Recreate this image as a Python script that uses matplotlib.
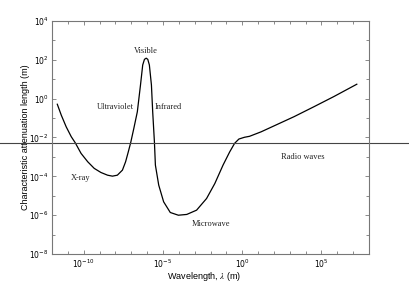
import numpy as np
import matplotlib
matplotlib.use('Agg')
import matplotlib.pyplot as plt
import matplotlib.transforms as mtransforms
from matplotlib.ticker import FixedLocator, NullFormatter

# curve, in log10 units
log_wavelength = [-11.67, -11.42, -11.11, -10.79, -10.54, -10.17, -9.75, -9.34, -8.92, -8.5,
                  -8.19, -7.88, -7.56, -7.36, -7.19, -7.04, -6.84, -6.62, -6.42, -6.28,
                  -6.17, -6.06, -5.96, -5.86, -5.73, -5.65, -5.54, -5.48, -5.27, -4.96,
                  -4.54, -4.03, -3.5, -2.88, -2.25, -1.73, -1.21, -0.79, -0.48, -0.21,
                  0.14, 0.46, 1.19, 2.23, 3.27, 4.52, 5.77, 7.23]
log_length = [-0.29, -0.85, -1.45, -1.96, -2.27, -2.82, -3.25, -3.59, -3.80, -3.94,
              -3.99, -3.94, -3.68, -3.25, -2.74, -2.27, -1.53, -0.68, 0.70, 1.73,
              2.02, 2.08, 2.02, 1.73, 0.70, -0.68, -2.25, -3.42, -4.45, -5.31,
              -5.86, -6.0, -5.96, -5.74, -5.14, -4.37, -3.42, -2.74, -2.30, -2.08,
              -1.99, -1.94, -1.71, -1.32, -0.93, -0.42, 0.10, 0.74]
ref_level = 10 ** -2.27

regions = ["Visible", "Ultraviolet", "Infrared", "X-ray", "Radio waves", "Microwave"]
region_x = [10 ** -6.06, 10 ** -7.98, 10 ** -4.65, 10 ** -10.17, 10 ** 3.85, 10 ** -2.0]
region_y = [10 ** 2.47, 10 ** -0.45, 10 ** -0.45, 10 ** -4.06, 10 ** -3.03, 10 ** -6.43]

x = 10 ** np.array(log_wavelength)
y = 10 ** np.array(log_length)

plt.rcParams['mathtext.fontset'] = 'stix'
fig = plt.figure(figsize=(4.1, 2.82), dpi=100)
ax = fig.add_axes([0.127, 0.099, 0.773, 0.827])

ax.plot(x, y, color='black', lw=0.9)

# horizontal line runs across the whole figure
trans = mtransforms.blended_transform_factory(fig.transFigure, ax.transData)
ax.plot([0, 1], [ref_level, ref_level], color='#444444', lw=0.8, transform=trans, clip_on=False)

for name, tx, ty in zip(regions, region_x, region_y):
    ax.text(tx, ty, name, fontsize=6, family='Liberation Serif', ha='center', va='center', color='#222222')

ax.set_xscale('log')
ax.set_yscale('log')
ax.set_xlim(1e-12, 1e8)
ax.set_ylim(1e-8, 1e4)

ax.xaxis.set_major_locator(FixedLocator([1e-10, 1e-5, 1e0, 1e5]))
ax.xaxis.set_minor_locator(FixedLocator([10.0 ** k for k in range(-12, 9)]))
ax.yaxis.set_major_locator(FixedLocator([10.0 ** k for k in range(-8, 5, 2)]))
ax.yaxis.set_minor_locator(FixedLocator([10.0 ** k for k in range(-8, 5)]))
ax.xaxis.set_minor_formatter(NullFormatter())
ax.yaxis.set_minor_formatter(NullFormatter())
ax.tick_params(which='both', direction='in', top=True, right=True, labelsize=5.5,
               color='#777777', width=0.6, pad=2.5)
ax.tick_params(which='major', length=3)
ax.tick_params(which='minor', length=2)
for s in ax.spines.values():
    s.set_color('#777777')
    s.set_linewidth(0.8)

ax.set_xlabel('Wavelength, $\\lambda$ (m)', fontsize=6.5, family='Liberation Sans')
ax.set_ylabel('Characteristic attenuation length (m)', fontsize=6.5, family='Liberation Sans')
ax.xaxis.set_label_coords(0.48, -0.068)
ax.yaxis.set_label_coords(-0.07, 0.5)

fig.savefig('out.png', dpi=100)
